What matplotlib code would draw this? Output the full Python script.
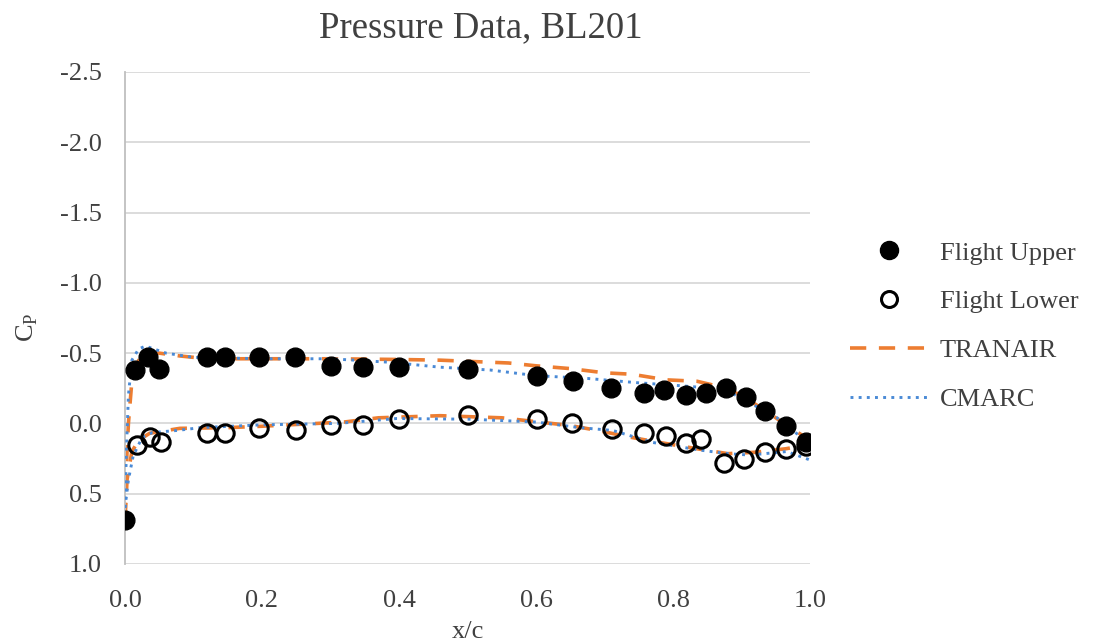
import matplotlib
matplotlib.use("Agg")
import matplotlib.pyplot as plt
from matplotlib.lines import Line2D

plt.rcParams['font.family'] = ['Liberation Serif', 'DejaVu Serif']
plt.rcParams['mathtext.fontset'] = 'custom'
plt.rcParams['mathtext.rm'] = 'Liberation Serif'

# ---- data ----
upper_x = [0.0, 0.015, 0.034, 0.05, 0.12, 0.146, 0.196, 0.248, 0.30, 0.348, 0.40, 0.50,
           0.602, 0.654, 0.709, 0.758, 0.787, 0.819, 0.848, 0.877, 0.906, 0.935, 0.965, 0.994]
upper_cp = [0.69, -0.38, -0.47, -0.39, -0.47, -0.47, -0.47, -0.47, -0.41, -0.40, -0.40, -0.39,
            -0.34, -0.305, -0.25, -0.215, -0.24, -0.20, -0.215, -0.25, -0.185, -0.085, 0.02, 0.13]

lower_x = [0.017, 0.036, 0.053, 0.12, 0.146, 0.196, 0.25, 0.30, 0.348, 0.40, 0.50, 0.602,
           0.652, 0.711, 0.758, 0.79, 0.819, 0.841, 0.874, 0.904, 0.935, 0.965, 0.994]
lower_cp = [0.15, 0.10, 0.13, 0.07, 0.07, 0.035, 0.05, 0.01, 0.01, -0.035, -0.06, -0.035,
            0.0, 0.04, 0.07, 0.09, 0.14, 0.11, 0.28, 0.25, 0.20, 0.18, 0.16]

tranair_up_x = [0.0, 0.002, 0.005, 0.01, 0.02, 0.03, 0.05, 0.08, 0.12, 0.2, 0.3, 0.4, 0.46,
                0.56, 0.6, 0.65, 0.7, 0.74, 0.79, 0.835, 0.87, 0.9, 0.935, 0.965, 1.0]
tranair_up_cp = [0.68, 0.3, 0.0, -0.3, -0.45, -0.5, -0.5, -0.48, -0.46, -0.46, -0.46, -0.455, -0.45,
                 -0.43, -0.41, -0.39, -0.36, -0.35, -0.31, -0.30, -0.26, -0.2, -0.09, 0.01, 0.12]

tranair_lo_x = [0.0, 0.003, 0.01, 0.02, 0.036, 0.08, 0.15, 0.2, 0.32, 0.37, 0.46, 0.55, 0.65,
                0.69, 0.74, 0.78, 0.835, 0.88, 0.92, 0.965, 1.0]
tranair_lo_cp = [0.68, 0.4, 0.2, 0.12, 0.07, 0.035, 0.03, 0.02, -0.01, -0.04, -0.055, -0.04, 0.015,
                 0.05, 0.10, 0.135, 0.18, 0.215, 0.205, 0.18, 0.15]

cmarc_up_x = [0.0, 0.002, 0.005, 0.01, 0.02, 0.03, 0.06, 0.1, 0.2, 0.3, 0.387, 0.46, 0.533,
              0.6, 0.675, 0.747, 0.806, 0.858, 0.888, 0.922, 0.952, 0.98, 1.0]
cmarc_up_cp = [0.6, 0.2, -0.2, -0.45, -0.53, -0.55, -0.5, -0.47, -0.46, -0.46, -0.435, -0.40, -0.38,
               -0.34, -0.32, -0.29, -0.27, -0.25, -0.21, -0.12, -0.04, 0.07, 0.14]

cmarc_lo_x = [0.0, 0.005, 0.012, 0.025, 0.04, 0.076, 0.11, 0.2, 0.31, 0.397, 0.503, 0.6, 0.664,
              0.712, 0.77, 0.84, 0.88, 0.912, 0.966, 1.0]
cmarc_lo_cp = [0.6, 0.4, 0.23, 0.10, 0.065, 0.05, 0.03, 0.01, 0.0, -0.035, -0.03, -0.01, 0.03,
               0.05, 0.135, 0.19, 0.215, 0.225, 0.2, 0.26]

x_ticks = [0.0, 0.2, 0.4, 0.6, 0.8, 1.0]
y_ticks = [-2.5, -2.0, -1.5, -1.0, -0.5, 0.0, 0.5, 1.0]

ORANGE = '#ED7D31'
BLUE = '#4A8AD6'
TXT = '#404040'
FS = 19

DASH = (0, (4.5, 3.5))
DOT = (0, (1, 1.8))

fig = plt.figure(figsize=(11, 6.43), dpi=100)
ax = fig.add_axes([125/1100, 1-564/643, 685/1100, 492/643])

ax.plot(tranair_up_x, tranair_up_cp, color=ORANGE, lw=2.6, linestyle=DASH, zorder=2)
ax.plot(tranair_lo_x, tranair_lo_cp, color=ORANGE, lw=2.6, linestyle=DASH, zorder=2)
ax.plot(cmarc_up_x, cmarc_up_cp, color=BLUE, lw=2.1, linestyle=DOT, zorder=3)
ax.plot(cmarc_lo_x, cmarc_lo_cp, color=BLUE, lw=2.1, linestyle=DOT, zorder=3)
ax.plot(upper_x, upper_cp, 'o', color='black', ms=13.5, zorder=4)
ax.plot(lower_x, lower_cp, 'o', mfc='none', mec='black', mew=2.2, ms=12.5, zorder=4)

ax.set_xlim(0, 1.0)
ax.set_ylim(1.0, -2.5)
ax.set_xticks(x_ticks)
ax.set_xticklabels([f'{v:.1f}' for v in x_ticks])
ax.set_yticks(y_ticks)
ax.set_yticklabels([f'{v:.1f}' for v in y_ticks])
ax.tick_params(axis='both', length=0, labelsize=FS, colors=TXT)
ax.tick_params(axis='x', pad=19)
ax.tick_params(axis='y', pad=17)
ax.grid(axis='y', color='#D9D9D9', lw=1.3)
ax.set_axisbelow(True)
for s in ['top', 'right', 'bottom']:
    ax.spines[s].set_visible(False)
ax.spines['left'].set_color('#BFBFBF')
ax.spines['left'].set_linewidth(1.3)

ax.set_xlabel('x/c', fontsize=FS, color=TXT, labelpad=6)
fig.text(27/1100, 1-327/643, r'C$_\mathregular{P}$', rotation=90, fontsize=FS,
         color=TXT, ha='center', va='center')
fig.text(481/1100, 1-28/643, 'Pressure Data, BL201', fontsize=26.5, color=TXT,
         ha='center', va='center')

handles = [
    Line2D([], [], marker='o', ls='none', color='black', ms=13),
    Line2D([], [], marker='o', ls='none', mfc='none', mec='black', mew=2.2, ms=11.5),
    Line2D([], [], color=ORANGE, lw=2.6, linestyle=DASH),
    Line2D([], [], color=BLUE, lw=2.1, linestyle=DOT),
]
labels = ['Flight Upper', 'Flight Lower', 'TRANAIR', 'CMARC']
leg = fig.legend(handles, labels, loc='center left', bbox_to_anchor=(850/1100, 1-326/643),
                 frameon=False, fontsize=FS, handlelength=2.95, handletextpad=0.45,
                 labelspacing=0.96, labelcolor=TXT, borderpad=0, borderaxespad=0)

fig.savefig('out.png', dpi=100)
